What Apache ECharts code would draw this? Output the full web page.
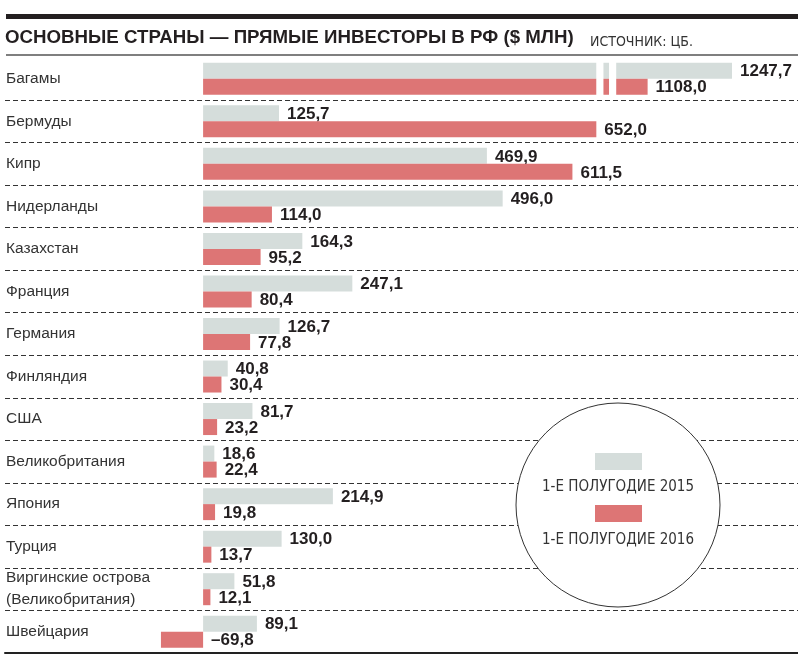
<!DOCTYPE html>
<html><head><meta charset="utf-8">
<script src="https://cdn.jsdelivr.net/npm/echarts@6/dist/echarts.min.js"></script>
<style>html,body{margin:0;padding:0;background:#fff}#chart{width:798px;height:654px}</style>
</head><body><div id="chart"></div>
<script>
const titleText = 'ОСНОВНЫЕ СТРАНЫ — ПРЯМЫЕ ИНВЕСТОРЫ В РФ ($ МЛН)';
const sourceText = 'ИСТОЧНИК: ЦБ.';
const categories = ['Багамы','Бермуды','Кипр','Нидерланды','Казахстан','Франция','Германия','Финляндия','США','Великобритания','Япония','Турция','Виргинские острова\n(Великобритания)','Швейцария'];
const seriesNames = ['1-Е ПОЛУГОДИЕ 2015','1-Е ПОЛУГОДИЕ 2016'];
const values2015 = [1247.7,125.7,469.9,496.0,164.3,247.1,126.7,40.8,81.7,18.6,214.9,130.0,51.8,89.1];
const values2016 = [1108.0,652.0,611.5,114.0,95.2,80.4,77.8,30.4,23.2,22.4,19.8,13.7,12.1,-69.8];
const axisBreak = {start: 651, end: 1056, gap: 33};
const colors = ['#d5dddb', '#dd7575'];

function fmt(v) {
  const s = Math.abs(v).toFixed(1).replace('.', ',');
  return v < 0 ? '\u2013' + s : s;
}

function makeRender(side) {
  return function (params, api) {
    const v = api.value(0), ci = api.value(1);
    const p0 = api.coord([0, ci]), p1 = api.coord([v, ci]);
    const bw = 16;
    const y = side === 0 ? p0[1] - bw : p0[1];
    const style = {fill: colors[side]};
    const ch = [];
    const rect = (a, b) => ch.push({type: 'rect', shape: {x: Math.min(a, b), y: y, width: Math.abs(b - a), height: bw}, style: style});
    if (v > axisBreak.end) {
      const a = api.coord([axisBreak.start, ci])[0], b = api.coord([axisBreak.end, ci])[0];
      const g = b - a;
      rect(p0[0], a);
      rect(a + g * 0.36, b - g * 0.36);
      rect(b, p1[0]);
    } else {
      rect(p0[0], p1[0]);
    }
    ch.push({type: 'text', style: {
      text: fmt(v), x: Math.max(p0[0], p1[0]) + 8, y: y + bw / 2 + 1,
      font: 'bold 17px "Liberation Sans", Arial, sans-serif', fill: '#231f20',
      verticalAlign: 'middle', align: 'left'
    }});
    return {type: 'group', children: ch};
  };
}

const chart = echarts.init(document.getElementById('chart'), null, {renderer: 'canvas'});
const option = {
  animation: false,
  backgroundColor: '#fff',
  title: [
    {text: titleText, left: 5, top: 27.5, padding: 0,
     textStyle: {fontFamily: '"Liberation Sans", Arial, sans-serif', fontWeight: 'bold', fontSize: 18.7, lineHeight: 21, color: '#231f20'}},
    {text: sourceText, left: 590, top: 34.5, padding: 0,
     textStyle: {fontFamily: '"Liberation Sans Narrow", "DejaVu Sans Condensed", sans-serif', fontWeight: 'normal', fontSize: 14, lineHeight: 16, color: '#333'}}
  ],
  grid: {left: 5, right: 0, top: 57.5, bottom: 1, containLabel: false},
  xAxis: {
    type: 'value', min: -328, max: 1357,
    breaks: [{start: axisBreak.start, end: axisBreak.end, gap: axisBreak.gap}],
    breakArea: {show: false},
    axisLabel: {show: false}, axisTick: {show: false}, splitLine: {show: false},
    axisLine: {show: true, onZero: false, breakLine: false, lineStyle: {color: '#222', width: 2}}
  },
  yAxis: {
    type: 'category', data: categories, inverse: true,
    axisLine: {show: false, onZero: false}, axisTick: {show: false},
    axisLabel: {inside: true, margin: 1, interval: 0, align: 'left', color: '#333', fontSize: 15.5, lineHeight: 22,
      fontFamily: '"Liberation Sans", Arial, sans-serif'},
    splitLine: {show: true, interval: function (i) { return i !== 0; }, lineStyle: {type: [5, 3], color: '#333', width: 1}}
  },
  series: [
    {type: 'custom', name: seriesNames[0], renderItem: makeRender(0), encode: {x: 0, y: 1},
     data: values2015.map((v, i) => [v, i]), z: 3},
    {type: 'custom', name: seriesNames[1], renderItem: makeRender(1), encode: {x: 0, y: 1},
     data: values2016.map((v, i) => [v, i]), z: 3}
  ],
  graphic: [
    {type: 'rect', shape: {x: 6, y: 14, width: 792, height: 5}, style: {fill: '#231f20'}, z: 100},
    {type: 'line', shape: {x1: 6, y1: 55, x2: 798, y2: 55}, style: {stroke: '#555', lineWidth: 1.5}, z: 100},
    {type: 'circle', shape: {cx: 618, cy: 505, r: 102}, style: {fill: '#fff', stroke: '#333', lineWidth: 1}, z: 100},
    {type: 'rect', shape: {x: 595, y: 453, width: 47, height: 17}, style: {fill: colors[0]}, z: 101},
    {type: 'text', style: {text: seriesNames[0], x: 618, y: 487, align: 'center', verticalAlign: 'middle',
      font: '15px "Liberation Sans Narrow", "DejaVu Sans Condensed", sans-serif', fill: '#333'}, z: 101},
    {type: 'rect', shape: {x: 595, y: 505, width: 47, height: 17}, style: {fill: colors[1]}, z: 101},
    {type: 'text', style: {text: seriesNames[1], x: 618, y: 540.5, align: 'center', verticalAlign: 'middle',
      font: '15px "Liberation Sans Narrow", "DejaVu Sans Condensed", sans-serif', fill: '#333'}, z: 101}
  ]
};
chart.setOption(option);
</script>
</body></html>
